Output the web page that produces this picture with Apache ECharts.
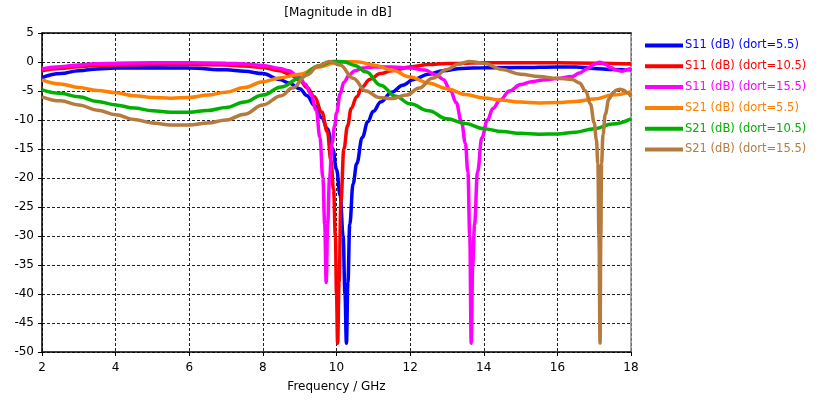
<!DOCTYPE html>
<html>
<head>
<meta charset="utf-8">
<script src="https://cdn.jsdelivr.net/npm/echarts@6/dist/echarts.min.js"></script>
<style>
html,body{margin:0;padding:0;background:#fff;}
#chart{width:818px;height:405px;}
</style>
</head>
<body>
<div id="chart"></div>
<script>
const titleText = '[Magnitude in dB]';
const xAxisName = 'Frequency / GHz';
const xTicks = [2, 4, 6, 8, 10, 12, 14, 16, 18];
const yTicks = [5, 0, -5, -10, -15, -20, -25, -30, -35, -40, -45, -50];
const seriesNames = ['S11 (dB) (dort=5.5)', 'S11 (dB) (dort=10.5)', 'S11 (dB) (dort=15.5)',
                     'S21 (dB) (dort=5.5)', 'S21 (dB) (dort=10.5)', 'S21 (dB) (dort=15.5)'];
const seriesColors = ['#0000FF', '#FF0000', '#FF00FF', '#FF8000', '#00B000', '#B47A3E'];

const s11_55 = [[2,-2.7],[2.5,-2.0],[3,-1.5],[3.5,-1.2],[4,-1.05],[5,-1.0],[6,-1.05],[7,-1.35],[7.5,-1.6],[8,-2.0],[8.45,-3.0],[8.7,-3.6],[9,-4.6],[9.2,-5.8],[9.4,-7.5],[9.6,-9.6],[9.75,-11.5],[9.9,-15],[10.0,-18.5],[10.1,-23],[10.18,-30],[10.23,-40],[10.27,-48.5],[10.31,-38],[10.36,-28],[10.45,-21],[10.55,-17.5],[10.7,-13],[10.85,-10.3],[11.0,-8.5],[11.2,-6.9],[11.5,-5.2],[11.8,-4.0],[12.1,-3.0],[12.5,-2.1],[12.9,-1.5],[13.4,-1.1],[14,-1.0],[15,-0.95],[16,-0.85],[16.5,-0.85],[17,-1.1],[17.5,-1.3],[18,-1.35]];
const s11_105 = [[2,-1.5],[2.5,-1.1],[3,-0.8],[3.5,-0.6],[4,-0.5],[5,-0.45],[6,-0.45],[7,-0.5],[7.5,-0.7],[8,-0.95],[8.45,-1.5],[8.7,-2.0],[9,-3.1],[9.2,-4.4],[9.4,-6.0],[9.6,-8.6],[9.75,-12],[9.85,-17],[9.92,-22],[9.97,-30],[10.0,-40],[10.03,-48.5],[10.07,-38],[10.12,-24],[10.2,-15],[10.3,-11],[10.4,-8],[10.55,-6.0],[10.7,-4.3],[10.9,-3.0],[11.2,-2.0],[11.5,-1.5],[12.0,-0.85],[12.5,-0.45],[13,-0.25],[14,-0.15],[15,-0.15],[16,-0.15],[17,-0.2],[17.5,-0.25],[18,-0.35]];
const s11_155 = [[2,-1.2],[2.5,-0.8],[3,-0.5],[3.5,-0.3],[4,-0.2],[5,-0.15],[6,-0.15],[7,-0.2],[7.5,-0.35],[8,-0.6],[8.45,-1.1],[8.7,-1.5],[9,-2.7],[9.15,-3.8],[9.3,-5.5],[9.45,-8.3],[9.55,-13],[9.63,-20],[9.68,-28],[9.72,-38],[9.76,-28],[9.81,-20],[9.88,-14],[9.95,-11],[10.0,-8.8],[10.1,-5.5],[10.2,-3.5],[10.35,-2.2],[10.5,-1.5],[10.7,-1.05],[11,-0.85],[11.5,-0.85],[12,-1.05],[12.4,-1.4],[12.7,-2.2],[12.9,-3.0],[13.1,-5.0],[13.25,-7.0],[13.4,-10.5],[13.5,-14],[13.57,-19],[13.62,-30],[13.66,-48.5],[13.7,-35],[13.75,-28],[13.83,-19],[13.95,-13],[14.1,-10],[14.25,-8],[14.45,-6.5],[14.7,-5.0],[15,-3.9],[15.3,-3.4],[15.6,-3.1],[16,-2.85],[16.4,-2.5],[16.6,-1.9],[16.8,-1.2],[17,-0.4],[17.15,-0.05],[17.3,-0.4],[17.45,-1.0],[17.6,-1.4],[17.75,-1.6],[17.9,-1.3],[18,-1.1]];
const s21_55 = [[2,-3.1],[2.5,-3.8],[3,-4.4],[3.5,-4.9],[4,-5.3],[4.5,-5.8],[5,-6.1],[5.5,-6.25],[6,-6.1],[6.5,-5.7],[7,-5.2],[7.5,-4.4],[8,-3.4],[8.5,-2.7],[9,-2.1],[9.5,-0.9],[10,-0.1],[10.3,0.05],[10.6,0],[11,-0.5],[11.5,-1.4],[12,-2.6],[12.5,-3.6],[13,-4.6],[13.5,-5.6],[14,-6.2],[14.5,-6.6],[15,-6.9],[15.5,-7.05],[16,-7.0],[16.5,-6.8],[17,-6.4],[17.5,-5.7],[18,-5.1]];
const s21_105 = [[2,-4.8],[2.5,-5.4],[3,-6.0],[3.5,-6.8],[4,-7.4],[4.5,-7.95],[5,-8.4],[5.5,-8.65],[6,-8.65],[6.5,-8.35],[7,-7.85],[7.5,-6.9],[8,-5.7],[8.5,-4.3],[9,-2.8],[9.5,-0.7],[9.9,0.1],[10.2,0.05],[10.5,-0.6],[10.8,-1.7],[11.2,-4.0],[11.6,-5.9],[12,-7.2],[12.5,-8.4],[13,-9.8],[13.5,-10.6],[14,-11.5],[14.5,-12.0],[15,-12.3],[15.5,-12.45],[16,-12.4],[16.5,-12.1],[17,-11.5],[17.5,-10.7],[18,-9.8]];
const s21_155 = [[2,-6.0],[2.5,-6.7],[3,-7.4],[3.5,-8.3],[4,-9.1],[4.5,-9.9],[5,-10.5],[5.5,-10.85],[6,-10.85],[6.5,-10.5],[7,-10.0],[7.5,-9.0],[8,-7.4],[8.5,-5.8],[8.8,-4.5],[9.2,-2.2],[9.5,-0.7],[9.8,0.1],[10.1,-0.5],[10.45,-2.8],[10.8,-5.0],[11.15,-6.1],[11.5,-6.3],[11.9,-5.7],[12.25,-4.5],[12.6,-2.8],[13,-1.3],[13.3,-0.4],[13.6,0.1],[14,-0.2],[14.5,-1.3],[15,-2.1],[15.5,-2.5],[16,-2.8],[16.4,-3.0],[16.6,-3.6],[16.77,-5.0],[16.9,-7.3],[17.0,-10.5],[17.06,-13.4],[17.1,-17.5],[17.13,-30],[17.16,-48.5],[17.18,-30],[17.2,-17.5],[17.24,-12.5],[17.3,-9],[17.4,-6.4],[17.5,-5.4],[17.6,-4.85],[17.7,-4.7],[17.8,-4.85],[17.9,-5.3],[18,-5.95]];

const seriesData = [s11_55, s11_105, s11_155, s21_55, s21_105, s21_155];
const FONT = 'DejaVu Sans';

const chart = echarts.init(document.getElementById('chart'), null, {renderer: 'canvas'});
const gridLine = {show: true, lineStyle: {color: '#222', type: [3, 2], width: 1}};
const option = {
  animation: false,
  backgroundColor: '#fff',
  textStyle: {fontFamily: FONT},
  title: {
    text: titleText, left: 338, top: 7, textAlign: 'center', padding: 0,
    textStyle: {fontFamily: FONT, fontSize: 12, fontWeight: 'normal', color: '#000'}
  },
  grid: {left: 42, right: 187, top: 33, bottom: 53, containLabel: false},
  legend: {
    orient: 'vertical', left: 645, top: 38, padding: 0,
    itemWidth: 38, itemHeight: 4, itemGap: 5.8, icon: 'rect',
    textStyle: {fontFamily: FONT, fontSize: 11.5, lineHeight: 15, padding: [0, 0, 0, -3]},
    data: seriesNames.map((n, i) => ({name: n, textStyle: {color: seriesColors[i]}}))
  },
  xAxis: [{
    type: 'value', min: xTicks[0], max: xTicks[xTicks.length - 1], interval: 2,
    name: xAxisName, nameLocation: 'middle', nameGap: 29,
    nameTextStyle: {fontFamily: FONT, fontSize: 12, color: '#000'},
    axisLine: {show: true, onZero: false, lineStyle: {color: '#000', width: 1.5}},
    axisTick: {show: true, length: 4, lineStyle: {color: '#000'}},
    axisLabel: {fontFamily: FONT, fontSize: 12, color: '#000', margin: 10},
    splitLine: gridLine
  }, {
    type: 'value', position: 'top', min: 2, max: 18, interval: 2,
    axisLine: {show: true, onZero: false, lineStyle: {color: '#000', width: 1.5}},
    axisTick: {show: false}, axisLabel: {show: false}, splitLine: {show: false}
  }],
  yAxis: [{
    type: 'value', min: yTicks[yTicks.length - 1], max: yTicks[0], interval: 5,
    axisLine: {show: true, onZero: false, lineStyle: {color: '#000', width: 1.5}},
    axisTick: {show: true, length: 4, lineStyle: {color: '#000'}},
    axisLabel: {fontFamily: FONT, fontSize: 12, color: '#000', margin: 8},
    splitLine: gridLine
  }, {
    type: 'value', position: 'right', min: -50, max: 5, interval: 5,
    axisLine: {show: true, onZero: false, lineStyle: {color: '#888', width: 1.5}},
    axisTick: {show: false}, axisLabel: {show: false}, splitLine: {show: false}
  }],
  series: seriesNames.map((n, i) => ({
    name: n, type: 'line', data: seriesData[i], xAxisIndex: 0, yAxisIndex: 0,
    showSymbol: false, symbol: 'none', smooth: 0.4, smoothMonotone: 'x',
    lineStyle: {color: seriesColors[i], width: 3.5}, itemStyle: {color: seriesColors[i]},
    clip: true
  }))
};
chart.setOption(option);
</script>
</body>
</html>
